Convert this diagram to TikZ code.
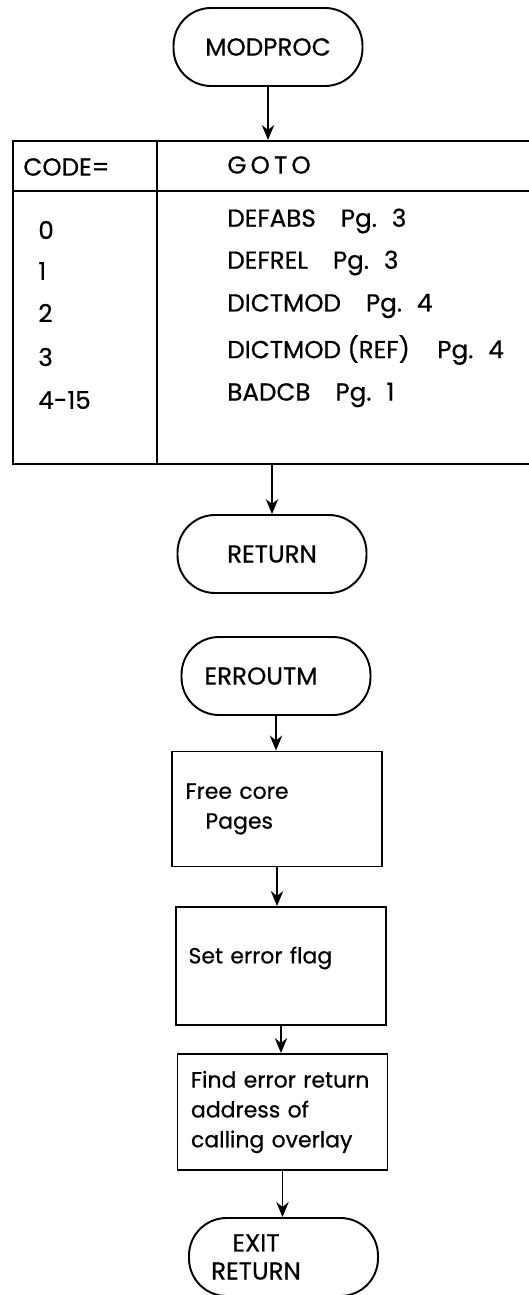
\documentclass[tikz,border=0pt]{standalone}
\usepackage{fontspec}
\setmainfont{Poppins}[UprightFeatures={FakeBold=0.6}]
\usetikzlibrary{arrows.meta, positioning}

\tikzset{
  terminal/.style={draw, line width=1.1pt, rounded corners=0.75cm,
        minimum width=3.78cm, minimum height=1.56cm, align=center,
        font=\fontsize{14}{16}\selectfont},
  procbox/.style={draw, line width=1.1pt, text width=4.1cm, inner xsep=0.05cm,
        align=left, font=\fontsize{12.5}{17}\selectfont},
  celltext/.style={anchor=west, inner sep=0pt, font=\fontsize{14}{16}\selectfont},
  tablerule/.style={line width=1.2pt},
  flow/.style={-{Stealth[length=8.5pt,width=7pt]}, line width=1.1pt}
}
\newcommand{\pgsep}{\hspace{0.5cm}}

\begin{document}
\begin{tikzpicture}[x=0.02cm, y=-0.02cm]
\useasboundingbox (0,0) rectangle (528,1295);

% entry point
\node[terminal] (modproc) at (268,47) {MODPROC};

% dispatch table, open on the right
\node[draw, tablerule, anchor=north west, inner sep=0pt,
      minimum width=10.6cm, minimum height=6.46cm] (tbl) at (12,140) {};
\draw[tablerule] ([yshift=-1.02cm]tbl.north west) -- ([yshift=-1.02cm]tbl.north east);
\draw[tablerule] ([xshift=2.9cm]tbl.north west) -- ([xshift=2.9cm]tbl.south west);

\node[celltext] (code) at (23,167) {CODE=};
\node[celltext] (goto) at (227,165) {G\,O\,T\,O};

\node[celltext] (c0) at (38,230) {0};
\node[celltext] (c1) at (38,271) {1};
\node[celltext] (c2) at (38,313) {2};
\node[celltext] (c3) at (38,357) {3};
\node[celltext] (c4) at (38,400) {4-15};

\node[celltext] (g0) at (227,221) {DEFABS\pgsep Pg.\hspace{0.3cm}3};
\node[celltext] (g1) at (227,263) {DEFREL\pgsep Pg.\hspace{0.3cm}3};
\node[celltext] (g2) at (227,306) {DICTMOD\pgsep Pg.\hspace{0.3cm}4};
\node[celltext] (g3) at (227,350) {DICTMOD (REF)\hspace{0.55cm}Pg.\hspace{0.3cm}4};
\node[celltext] (g4) at (227,395) {BADCB\pgsep Pg.\hspace{0.3cm}1};

\node[terminal] (ret) at (272,554) {RETURN};

\draw[flow] (modproc.south) -- (modproc.south |- tbl.north);
\draw[flow] (ret |- tbl.south) -- (ret.north);

% error exit
\node[terminal] (errout) at (276,676) {ERROUTM\hspace*{0.6cm}};
\node[procbox, minimum height=2.3cm] (freecore) at (277,809)
     {\hspace*{0.22cm}Free core\\\hspace*{0.62cm}Pages};
\node[procbox, minimum height=2.36cm] (errflag) at (281,966)
     {\raisebox{0.44cm}{\hspace*{0.2cm}Set error flag}};
\node[procbox, minimum height=2.32cm] (findret) at (282.5,1112)
     {\hspace*{0.22cm}Find error return\\\hspace*{0.22cm}address of\\\hspace*{0.22cm}calling overlay};
\node[terminal] (exitret) at (283.5,1257)
     {EXIT\hspace*{1.1cm}\\RETURN\hspace*{1.1cm}};

\draw[flow] (errout.south) -- (errout.south |- freecore.north);
\draw[flow] (freecore.south) -- (freecore.south |- errflag.north);
\draw[flow] (errflag.south) -- (errflag.south |- findret.north);
\draw[flow] (findret.south) -- (findret.south |- exitret.north);
\end{tikzpicture}
\end{document}
